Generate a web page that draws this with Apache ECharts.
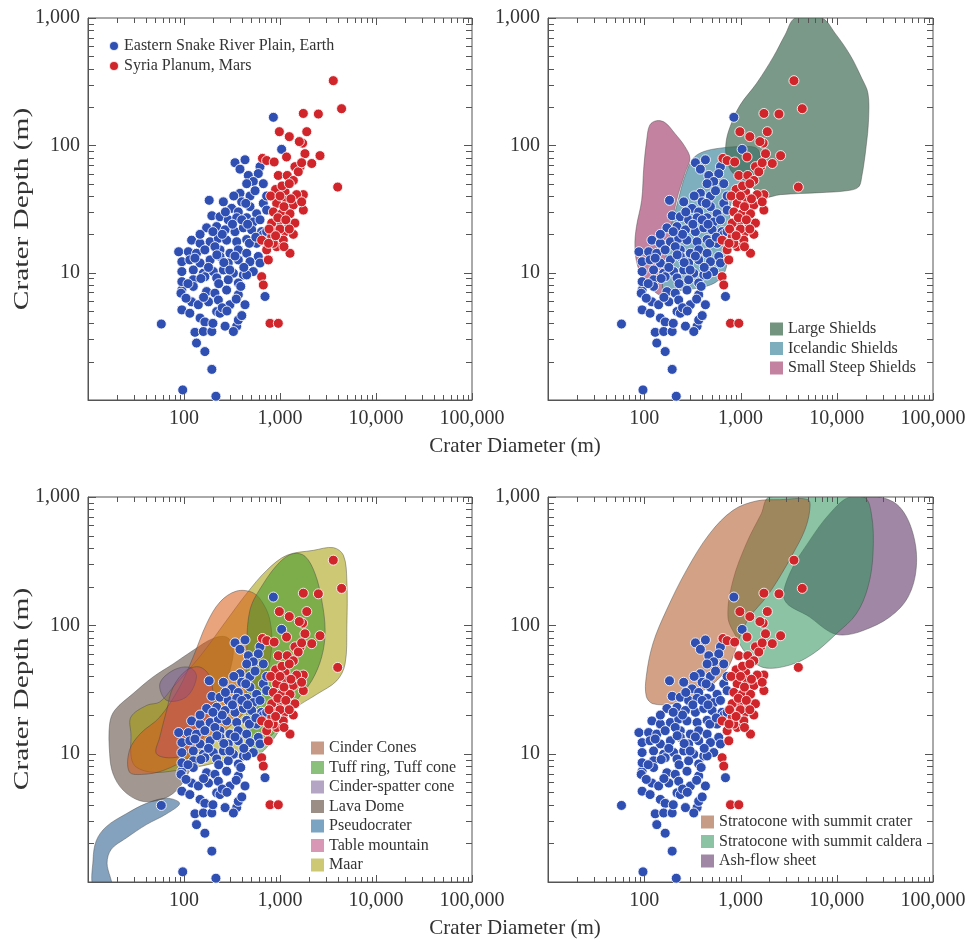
<!DOCTYPE html>
<html>
<head>
    <meta charset="utf-8">
    <title>Crater depth vs diameter</title>
    <script src="https://cdn.jsdelivr.net/npm/echarts@6.0.0/dist/echarts.min.js"></script>
    <style>
        html, body { margin: 0; padding: 0; background: #fff; }
        #main { width: 972px; height: 942px; }
    </style>
</head>
<body>
<div id="main"></div>
<script>
    // tick values
    var xMajor = [10, 100, 1000, 10000, 100000];
    var yMajor = [1, 10, 100, 1000];
    var minorSteps = [2, 3, 4, 5, 6, 7, 8, 9];

    // [diameter m, depth m]
    var earthPts = [
        [853,166],[1040,93],[340,73],[432,77],[383,65],[468,58],[619,68],[594,60],[527,52],[670,50],[450,50],
        [183,37],[383,42],[487,40],[257,36],[314,32],[399,36],[368,30],[487,33],[571,29],[670,35],[726,40],
        [195,28],[237,27.5],[289,26],[450,27],[527,25],[619,26],[354,27],
        [172,22.5],[219,23],[268,21.7],[340,21],[415,22.5],[507,21.7],[644,21],
        [120,18],[147,17],[187,17.5],[228,18.6],[278,18],[354,17.5],[450,18.2],[571,17],[698,18],
        [88,14.6],[111,14.6],[135,14.2],[165,15.1],[237,15.1],[301,14.2],[368,15.1],[450,14.2],[594,13.4],
        [95,12.2],[115,12.6],[147,11.9],[187,12.6],[237,13.4],[289,11.9],[368,12.6],[487,12.2],[619,11.9],
        [95,10.2],[125,10.5],[159,9.9],[202,10.2],[257,10.5],[327,9.9],[415,9.6],[527,10.2],
        [125,8.8],[165,9.3],[219,9.1],[289,8.8],[368,8.3],[450,9.6],
        [95,7.3],[125,7.8],[172,7.1],[210,6.9],[278,7.3],[368,6.7],[432,5.6],
        [120,5.9],[141,5.6],[180,5.9],[228,6.1],[301,5.6],
        [95,5.1],[115,4.8],[147,4.4],[219,4.95],[237,4.8],[165,4.1],
        [130,3.4],[159,3.45],[195,3.45],[268,3.8],[354,3.8],[368,4.25],[327,3.45],
        [58,3.95],[135,2.8],[165,2.4],[195,1.74],[97,1.2],[215,1.07],[698,6.5],
        [726,31],[670,20],[726,21],[93,6.9],[95,8.5],[147,20],
        [250,20],[210,16],[320,24],[400,26],[260,12],[340,13.5],[180,11],[300,10.5],[230,8.2],[390,7.8],
        [160,6.4],[250,5.3],[420,11],[480,17],[150,9],[130,13],[200,21],[440,35],[550,44],[330,40],
        [270,30],[560,19],[460,24],[220,13.8],[110,8.2],[105,6.3],[350,6.2],[280,5.0],[200,4.0],[400,4.6]
    ];
    var marsPts = [
        [3590,322],[4380,194],[3990,47],[2510,176],[1750,178],[1900,128],[2610,83],[2140,72],[1820,86],
        [1720,104],[1590,107],[1620,68],[1750,41],[1750,31],[985,128],[1250,117],[1170,81],[657,79],
        [726,76],[870,74],[960,58],[1190,58],[1430,68],[1377,53],[1550,62],[1680,73],
        [1130,43],[1490,41],[923,35],[1173,37],[1377,34],[1680,36],[853,30],[1040,29],[1271,29],
        [960,25],[1220,24.5],[1430,24.5],[820,24.5],[923,21],[1130,21],[1377,20],[820,19.2],[1083,18],
        [644,18],[726,15.1],[923,16],[1271,14.2],[756,12.6],[644,9.3],[670,8.0],[853,17],[787,4.0],[960,4.0],
        [900,45],[1050,48],[1250,50],[800,40],[1000,40],[1100,33],[950,27],[1150,26],[770,22],[1000,22],
        [1250,22],[900,19.5],[1100,16],[760,17],[1300,38]
    ];

    // shield fields (top right)
    var largeShields = [[3700,1000],[7000,1000],[9600,760],[13800,510],[18200,336],[21100,256],[21400,158],
        [20200,98],[18200,57],[16800,47],[12700,44],[6700,42.5],[2600,41],[1800,39],[1530,42],[1160,52],
        [840,60],[720,77],[706,104],[780,140],[990,207],[1470,307],[2200,497],[2900,735]];
    var icelandicShields = [[323,79],[410,89],[612,95],[1070,98],[1470,95],[1600,81],[1530,64],[1260,53],
        [950,47],[810,37],[765,23],[747,14.2],[690,10.2],[565,8.5],[410,7.7],[254,7.3],[164,7.0],[155,8.8],
        [171,14.2],[192,23],[225,37],[264,57]];
    var smallSteepShields = [[134,156],[164,151],[208,124],[264,98],[298,79],[264,60],[217,37],[185,20],
        [164,12.6],[155,8.2],[151,6.7],[134,6.9],[106,8.2],[86,11.1],[80,16],[83,23],[94,37],[99,68],
        [106,110],[114,144]];

    // monogenetic fields (bottom left)
    var pseudocrater = [[11.5,0.9],[17.5,0.9],[15.8,1.4],[17.5,1.8],[25,2.2],[40.6,2.8],[66,3.4],[90,4.1],
        [66,4.5],[40.6,4.1],[25,3.4],[15.5,2.7],[12.2,2.1],[11.3,1.5]];
    var lavaDome = [[16.8,17.1],[19,21.8],[29.5,29.4],[47.6,39.6],[77,50],[125,64],[201,79],[277,81],
        [326,68],[301,44.6],[237,27.7],[172,17.1],[135,10],[106,6.6],[77,4.9],[51.6,4.3],[34.6,4.3],
        [23.2,5.2],[18.2,7.0],[16.8,10]];
    var cinderCones = [[27,7.2],[27,10.6],[35,14.3],[56,19.3],[90,33],[125,57],[172,103],[237,152],
        [353,185],[527,179],[670,147],[787,109],[819,68],[726,42],[571,28],[383,19.3],[218,13.5],
        [115,9.4],[61,7.4],[37.5,6.9]];
    var cinderSpatter = [[56,35],[77,44.6],[115,47],[135,39.6],[106,27.7],[66,26]];
    var tableMountain = [[51.6,10],[56,13.5],[66,21.8],[77,33],[106,44.6],[146,47.3],[186,39.6],
        [201,24.5],[172,15.2],[125,10.6],[77,9.3]];
    var maar = [[28,14.3],[28,19.3],[41,23.8],[56,25.3],[77,33],[146,57],[277,109],[449,177],[726,268],
        [1175,351],[2228,384],[3600,403],[4580,351],[4970,224],[4970,97],[4760,50],[3900,37],[2415,29],
        [1377,22],[851,14.3],[449,10],[201,8.4],[83,7.4],[44,7.2],[29.5,8.4]];
    var tuffRing = [[486,131],[670,211],[1000,312],[1377,362],[1824,345],[2317,253],[2722,157],[2951,91],
        [2722,57],[2140,37],[1493,26],[1084,17.1],[787,12],[595,10],[486,12],[449,21.8],[449,57]];

    // stratocones and ash flows (bottom right)
    var summitCrater = [[105,28],[105,40],[123,72],[170,131],[274,268],[478,518],[836,787],[1461,931],
        [2553,953],[5025,953],[5236,787],[4645,550],[3508,362],[2553,238],[1855,166],[1245,116],[980,81],
        [870,62],[741,47],[518,35],[321,28],[199,24.5],[123,24.5]];
    var summitCaldera = [[2009,1000],[18750,1000],[22900,741],[23800,362],[21100,199],[15960,123],[9900,86],
        [5667,60],[3243,49],[1714,47],[1150,60],[905,81],[741,116],[836,224],[1150,433],[1645,741]];
    var ashFlow = [[13600,1000],[27900,1000],[45000,836],[62000,518],[67100,285],[55000,166],[35500,116],
        [18750,91],[11600,84],[8440,89],[5236,116],[2877,157],[3243,253],[5236,459],[8440,741]];

    var serif = "'Liberation Serif', 'DejaVu Serif', serif";
    var inkColor = '#333';

    var chart = echarts.init(document.getElementById('main'));

    var grids = [
        {left: 88, top: 18, width: 384, height: 382},
        {left: 548, top: 18, width: 385, height: 382},
        {left: 88, top: 497, width: 384, height: 385},
        {left: 548, top: 497, width: 385, height: 385}
    ];

    function fmtNum(v) {
        return Math.round(v).toString().replace(/\B(?=(\d{3})+(?!\d))/g, ',');
    }

    var xAxes = [], yAxes = [];
    grids.forEach(function (g, i) {
        g.show = true;
        g.borderColor = '#555';
        g.borderWidth = 1;
        xAxes.push({
            gridIndex: i, type: 'log', logBase: 10, min: 10, max: 100000,
            axisLine: {lineStyle: {color: '#555'}},
            axisTick: {show: false},
            splitLine: {show: false},
            axisLabel: {
                fontFamily: serif, fontSize: 20, color: inkColor, margin: 9,
                formatter: function (v) { return v < 50 ? '' : fmtNum(v); }
            }
        });
        yAxes.push({
            gridIndex: i, type: 'log', logBase: 10, min: 1, max: 1000,
            axisLine: {lineStyle: {color: '#555'}},
            axisTick: {show: false},
            splitLine: {show: false},
            axisLabel: {
                fontFamily: serif, fontSize: 20, color: inkColor, margin: 8,
                formatter: function (v) { return v < 5 ? '' : fmtNum(v); }
            }
        });
    });

    // log ticks on all four sides, pointing in
    function tickSeries(idx) {
        return {
            type: 'custom', xAxisIndex: idx, yAxisIndex: idx, silent: true, z: 6,
            data: [[100, 10]],
            renderItem: function (params, api) {
                var cs = params.coordSys, kids = [];
                var l = cs.x, r = cs.x + cs.width, t = cs.y, b = cs.y + cs.height;
                function seg(x1, y1, x2, y2) {
                    kids.push({type: 'line', shape: {x1: x1, y1: y1, x2: x2, y2: y2},
                        style: {stroke: '#555', lineWidth: 1}});
                }
                xMajor.forEach(function (d) {
                    [1].concat(minorSteps).forEach(function (m) {
                        var v = d * m;
                        if (v > 100000) return;
                        var x = Math.round(api.coord([v, 1])[0]) + 0.5;
                        var len = m === 1 ? 7 : 5;
                        seg(x, b, x, b - len);
                        seg(x, t, x, t + len);
                    });
                });
                yMajor.forEach(function (d) {
                    [1].concat(minorSteps).forEach(function (m) {
                        var v = d * m;
                        if (v > 1000) return;
                        var y = Math.round(api.coord([10, v])[1]) + 0.5;
                        var len = m === 1 ? 8 : 6;
                        seg(l, y, l + len, y);
                        seg(r, y, r - len, y);
                    });
                });
                return {type: 'group', children: kids};
            }
        };
    }

    // filled field outline; swatch is the colour as seen over white
    function areaSeries(name, pts, fill, swatch, idx) {
        return {
            name: name, type: 'custom', xAxisIndex: idx, yAxisIndex: idx,
            clip: true, silent: true, z: 2,
            itemStyle: {color: swatch},
            data: [[100, 10]],
            renderItem: function (params, api) {
                return {
                    type: 'polygon',
                    shape: {points: pts.map(function (p) { return api.coord(p); }), smooth: 0.35},
                    style: {fill: fill, stroke: 'rgba(70,70,70,0.55)', lineWidth: 0.8}
                };
            }
        };
    }

    function dotSeries(name, pts, color, idx) {
        return {
            name: name, type: 'scatter', xAxisIndex: idx, yAxisIndex: idx,
            symbol: 'circle', symbolSize: 10, z: 4,
            itemStyle: {color: color, borderColor: 'rgba(255,255,255,0.85)', borderWidth: 1, opacity: 1},
            data: pts
        };
    }

    var earthName = 'Eastern Snake River Plain, Earth';
    var marsName = 'Syria Planum, Mars';
    var blue = '#2f4fb3';
    var red = '#d0252a';

    var series = [
        areaSeries('Small Steep Shields', smallSteepShields, 'rgba(175,88,128,0.75)', '#c382a0', 1),
        areaSeries('Icelandic Shields', icelandicShields, 'rgba(82,148,168,0.75)', '#7daebe', 1),
        areaSeries('Large Shields', largeShields, 'rgba(60,105,80,0.68)', '#73957f', 1),

        areaSeries('Pseudocrater', pseudocrater, 'rgba(50,100,145,0.6)', '#7ba3c2', 2),
        areaSeries('Lava Dome', lavaDome, 'rgba(85,65,55,0.55)', '#9b8e86', 2),
        areaSeries('Maar', maar, 'rgba(164,155,0,0.55)', '#cdc873', 2),
        areaSeries('Cinder Cones', cinderCones, 'rgba(215,90,20,0.55)', '#c79a87', 2),
        areaSeries('Cinder-spatter cone', cinderSpatter, 'rgba(110,80,150,0.4)', '#b5a5c5', 2),
        areaSeries('Table mountain', tableMountain, 'rgba(200,60,120,0.35)', '#d897b5', 2),
        areaSeries('Tuff ring, Tuff cone', tuffRing, 'rgba(60,150,40,0.55)', '#8bc07c', 2),

        areaSeries('Ash-flow sheet', ashFlow, 'rgba(82,37,91,0.55)', '#a087a5', 3),
        areaSeries('Stratocone with summit caldera', summitCaldera, 'rgba(46,146,91,0.55)', '#8cc3a5', 3),
        areaSeries('Stratocone with summit crater', summitCrater, 'rgba(175,85,35,0.55)', '#c69c87', 3)
    ];
    [0, 1, 2, 3].forEach(function (i) {
        series.push(dotSeries(earthName, earthPts, blue, i));
        series.push(dotSeries(marsName, marsPts, red, i));
        series.push(tickSeries(i));
    });

    var legendText = {fontFamily: serif, fontSize: 16, color: inkColor};

    // the y-axis title is drawn long and narrow, as in the source figure
    function depthTitle(cy) {
        return {type: 'text', x: 22, y: cy, rotation: Math.PI / 2, scaleX: 1.4,
            style: {text: 'Crater Depth (m)', font: '21px ' + serif, fill: inkColor,
                textAlign: 'center', textVerticalAlign: 'middle'}};
    }

    var option = {
        animation: false,
        backgroundColor: '#fff',
        grid: grids,
        xAxis: xAxes,
        yAxis: yAxes,
        legend: [
            {left: 108, top: 38, orient: 'vertical', icon: 'circle', itemWidth: 10, itemHeight: 10,
                itemGap: 4, padding: 0, textStyle: legendText, data: [earthName, marsName]},
            {left: 770, top: 321, orient: 'vertical', icon: 'rect', itemWidth: 13, itemHeight: 13,
                itemGap: 3.5, padding: 0, textStyle: legendText,
                data: ['Large Shields', 'Icelandic Shields', 'Small Steep Shields']},
            {left: 311, top: 740, orient: 'vertical', icon: 'rect', itemWidth: 13, itemHeight: 13,
                itemGap: 3.5, padding: 0, textStyle: legendText,
                data: ['Cinder Cones', 'Tuff ring, Tuff cone', 'Cinder-spatter cone', 'Lava Dome',
                    'Pseudocrater', 'Table mountain', 'Maar']},
            {left: 701, top: 814, orient: 'vertical', icon: 'rect', itemWidth: 13, itemHeight: 13,
                itemGap: 3.5, padding: 0, textStyle: legendText,
                data: ['Stratocone with summit crater', 'Stratocone with summit caldera', 'Ash-flow sheet']}
        ],
        graphic: [
            depthTitle(209),
            depthTitle(689),
            {type: 'text', x: 515, y: 446,
                style: {text: 'Crater Diameter (m)', font: '21px ' + serif, fill: inkColor,
                    textAlign: 'center', textVerticalAlign: 'middle'}},
            {type: 'text', x: 515, y: 928,
                style: {text: 'Crater Diameter (m)', font: '21px ' + serif, fill: inkColor,
                    textAlign: 'center', textVerticalAlign: 'middle'}}
        ],
        series: series
    };

    chart.setOption(option);
</script>
</body>
</html>
